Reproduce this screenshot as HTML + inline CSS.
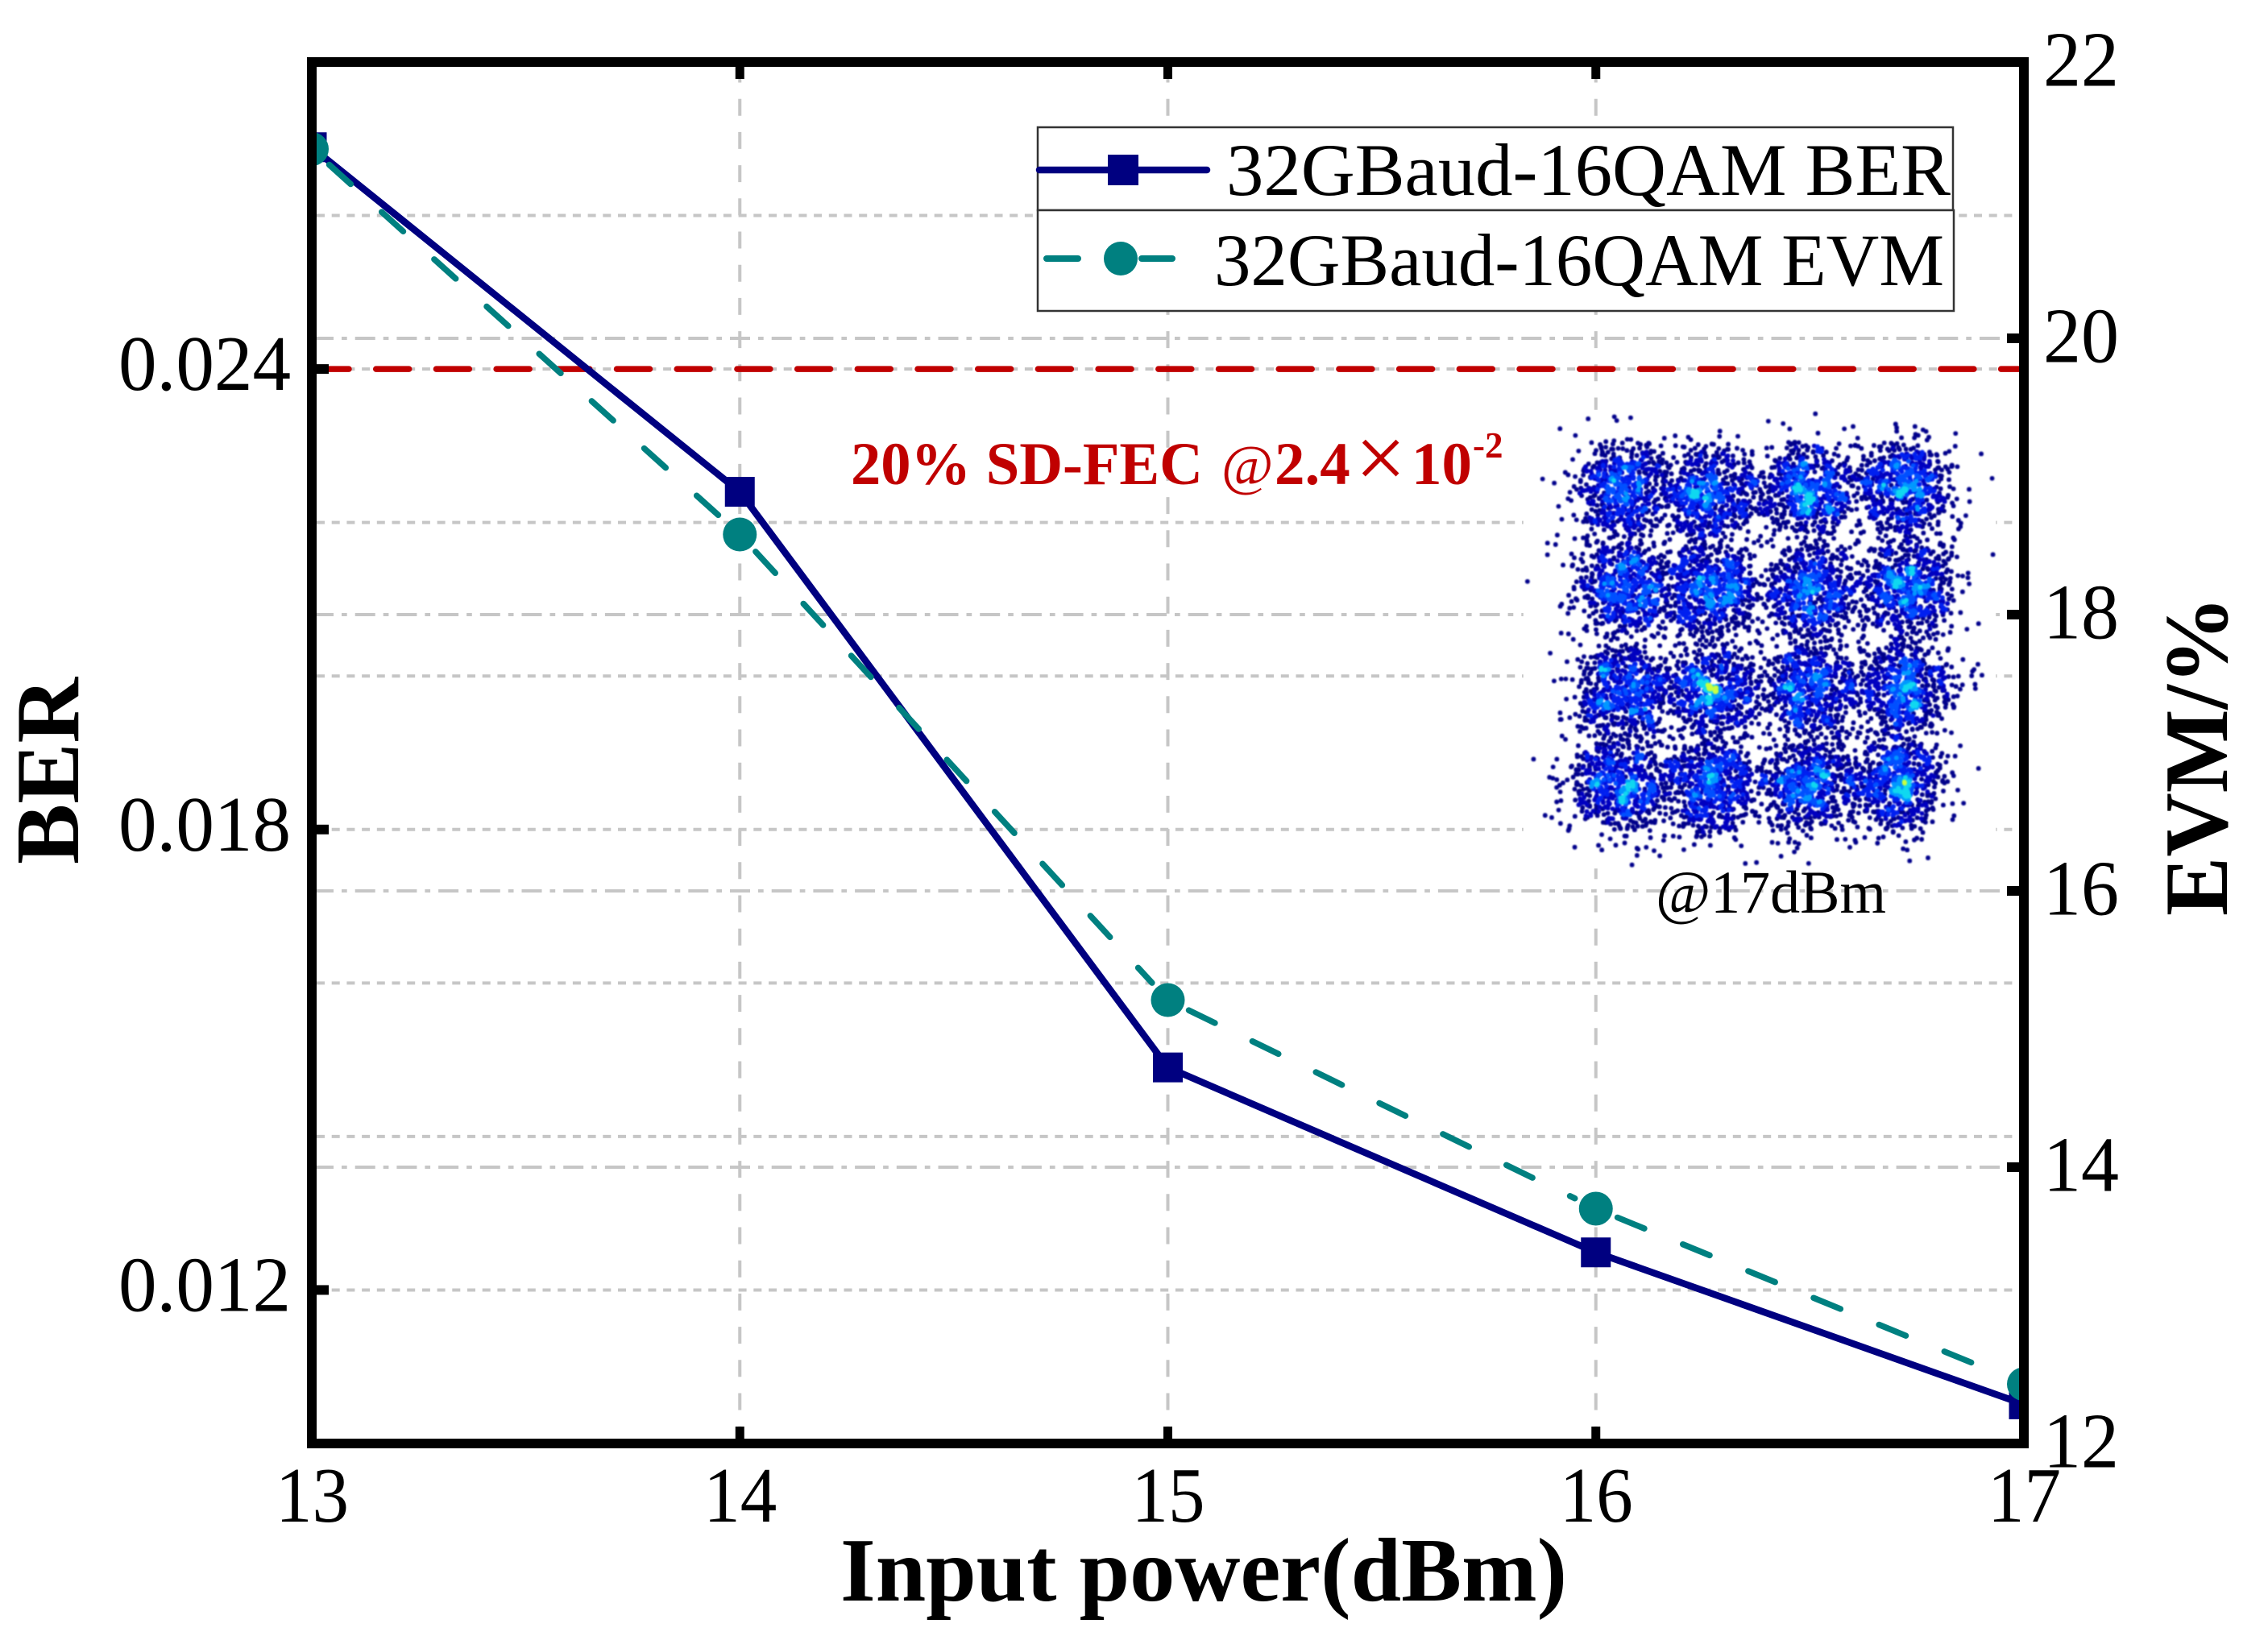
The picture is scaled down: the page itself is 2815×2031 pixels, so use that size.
<!DOCTYPE html>
<html lang="en">
<head>
<meta charset="utf-8">
<title>BER and EVM versus input power</title>
<style>
html,body{margin:0;padding:0;background:#fff;width:2815px;height:2031px;overflow:hidden}
#chart{position:absolute;left:0;top:0;width:2815px;height:2031px}
#constellation-canvas{position:absolute;left:1891px;top:509px;width:586px;height:569px;filter:blur(.7px)}
text{font-family:"Liberation Serif",serif;fill:#000}
.tick-label{font-size:98px}
.axis-title{font-size:112px;font-weight:bold}
.legend-text{font-size:92px}
.fec{fill:#c00000;font-size:75px;font-weight:bold}
</style>
</head>
<body>
<svg id="chart" xmlns="http://www.w3.org/2000/svg" width="2815" height="2031" viewBox="0 0 2815 2031">
  <defs>
    <clipPath id="plot-clip"><rect x="387" y="77" width="2125" height="1715"/></clipPath>
  </defs>
  <rect x="0" y="0" width="2815" height="2031" fill="#fff"/>
  <g id="grid"></g>
  <rect x="1891" y="509" width="586" height="569" fill="#fff"/>
  <line id="fec-line" stroke="#c00000" stroke-width="7.5" stroke-linecap="round" stroke-dasharray="41 33.7"/>
  <g id="series" clip-path="url(#plot-clip)"></g>
  <rect x="387" y="77" width="2125" height="1715" fill="none" stroke="#000" stroke-width="12"/>
  <g id="ticks"></g>
  <g id="tick-labels"></g>

  <text class="axis-title" x="1043" y="1987" textLength="902" lengthAdjust="spacingAndGlyphs">Input power(dBm)</text>
  <text class="axis-title" transform="translate(97 1073) rotate(-90)" textLength="232" lengthAdjust="spacingAndGlyphs">BER</text>
  <text class="axis-title" transform="translate(2764 1137) rotate(-90)" textLength="397" lengthAdjust="spacingAndGlyphs">EVM/%</text>

  <g>
    <rect x="1288" y="158" width="1136" height="103" fill="#fff" stroke="#333" stroke-width="2.5"/>
    <rect x="1288" y="261" width="1137" height="125" fill="#fff" stroke="#333" stroke-width="2.5"/>
    <line x1="1290" y1="211" x2="1498" y2="211" stroke="#000080" stroke-width="8.5" stroke-linecap="round"/>
    <rect x="1375" y="192" width="38" height="38" fill="#000080"/>
    <text class="legend-text" x="1522" y="242" textLength="899" lengthAdjust="spacingAndGlyphs">32GBaud-16QAM BER</text>
    <line x1="1299" y1="321" x2="1338" y2="321" stroke="#008080" stroke-width="8" stroke-linecap="round"/>
    <line x1="1417" y1="321" x2="1455" y2="321" stroke="#008080" stroke-width="8" stroke-linecap="round"/>
    <circle cx="1391" cy="321" r="21" fill="#008080"/>
    <text class="legend-text" x="1507" y="354" textLength="906" lengthAdjust="spacingAndGlyphs">32GBaud-16QAM EVM</text>
  </g>

  <g>
    <text class="fec" x="1056" y="601" textLength="437" lengthAdjust="spacingAndGlyphs">20% SD-FEC</text>
    <text class="fec" x="1516" y="601" style="font-size:70px;font-weight:normal">@</text>
    <text class="fec" x="1582" y="601">2.4</text>
    <text class="fec" x="1682" y="606" style="font-size:112px;font-weight:normal">×</text>
    <text class="fec" x="1752" y="601">10</text>
    <text class="fec" x="1828" y="568" style="font-size:45px">-2</text>
  </g>

  <text x="2055" y="1133" style="font-size:75px" textLength="286" lengthAdjust="spacingAndGlyphs">@17dBm</text>
</svg>
<canvas id="constellation-canvas" width="586" height="569"></canvas>

<script>
const categories = [13, 14, 15, 16, 17];
const berValues = [0.02689, 0.0224, 0.0149, 0.01249, 0.01051];
const evmValues = [21.37, 18.58, 15.21, 13.7, 12.43];
const berLabeledTicks = [0.012, 0.018, 0.024];
const berLabels = ['0.012', '0.018', '0.024'];
const berGridValues = [0.012, 0.014, 0.016, 0.018, 0.02, 0.022, 0.024, 0.026];
const evmTicks = [12, 14, 16, 18, 20, 22];
const evmLabels = ['12', '14', '16', '18', '20', '22'];
const xLabels = ['13', '14', '15', '16', '17'];
const fecThreshold = [0.024];

const NS = 'http://www.w3.org/2000/svg';
const plot = { left: 387, right: 2512, top: 77, bottom: 1792 };
const xDomain = [13, 17];
const berDomain = [0.01, 0.028];
const evmDomain = [12, 22];

function xScale(v) {
  return plot.left + (v - xDomain[0]) / (xDomain[1] - xDomain[0]) * (plot.right - plot.left);
}
function yBer(v) {
  return plot.bottom - (v - berDomain[0]) / (berDomain[1] - berDomain[0]) * (plot.bottom - plot.top);
}
function yEvm(v) {
  return plot.bottom - (v - evmDomain[0]) / (evmDomain[1] - evmDomain[0]) * (plot.bottom - plot.top);
}
function make(tag, attrs, parent) {
  const el = document.createElementNS(NS, tag);
  for (const k in attrs) el.setAttribute(k, attrs[k]);
  parent.appendChild(el);
  return el;
}

const grid = document.getElementById('grid');
const ticks = document.getElementById('ticks');
const labels = document.getElementById('tick-labels');
const series = document.getElementById('series');

/* grid */
categories.slice(1, -1).forEach(function (c) {
  const el = make('line', { x1: xScale(c), x2: xScale(c), y1: 81.5, y2: plot.bottom, stroke: '#c6c6c6', 'stroke-width': 4, 'stroke-dasharray': '21 20.2' }, grid);
  
  
});
berGridValues.forEach(function (v) {
  const el = make('line', { x1: 393, x2: 2506, y1: yBer(v), y2: yBer(v), stroke: '#c6c6c6', 'stroke-width': 4, 'stroke-dasharray': '10 8.7' }, grid);
  
  
});
evmTicks.slice(1, -1).forEach(function (v) {
  const el = make('line', { x1: 389, x2: 2506, y1: yEvm(v), y2: yEvm(v), stroke: '#c6c6c6', 'stroke-width': 4, 'stroke-dasharray': '25 10 6.7 10' }, grid);
  
  
});

/* threshold */
const fec = document.getElementById('fec-line');
fec.setAttribute('x1', 392);
fec.setAttribute('x2', 2512);
fec.setAttribute('y1', yBer(fecThreshold[0]));
fec.setAttribute('y2', yBer(fecThreshold[0]));

/* BER series */
const berPoints = categories.map(function (c, i) { return xScale(c) + ',' + yBer(berValues[i]); }).join(' ');
const berLine = make('polyline', { points: berPoints, fill: 'none', stroke: '#000080', 'stroke-width': 8.5, 'stroke-linejoin': 'round' }, series);



/* EVM series: each segment is dashed separately, leaving a gap round the markers */
const markerGap = 29;
for (let i = 0; i < categories.length - 1; i++) {
  const x1 = xScale(categories[i]), y1 = yEvm(evmValues[i]);
  const x2 = xScale(categories[i + 1]), y2 = yEvm(evmValues[i + 1]);
  const len = Math.hypot(x2 - x1, y2 - y1);
  const ux = (x2 - x1) / len, uy = (y2 - y1) / len;
  const seg = make('line', {
    x1: x1 + ux * markerGap, y1: y1 + uy * markerGap,
    x2: x2 - ux * markerGap, y2: y2 - uy * markerGap,
    stroke: '#008080', 'stroke-width': 7.5, 'stroke-linecap': 'round', 'stroke-dasharray': '36 51.7'
  }, series);
  
  
}

/* markers */
categories.forEach(function (c, i) {
  const sq = make('rect', { x: xScale(c) - 18.5, y: yBer(berValues[i]) - 18.5, width: 37, height: 37, fill: '#000080' }, series);
  
  
});
categories.forEach(function (c, i) {
  const dot = make('circle', { cx: xScale(c), cy: yEvm(evmValues[i]), r: 21, fill: '#008080' }, series);
  
  
});

/* ticks */
categories.slice(1, -1).forEach(function (c) {
  const top = make('line', { x1: xScale(c), x2: xScale(c), y1: 83, y2: 98, stroke: '#000', 'stroke-width': 11 }, ticks);
  
  
  const bottom = make('line', { x1: xScale(c), x2: xScale(c), y1: 1771, y2: 1786, stroke: '#000', 'stroke-width': 11 }, ticks);
  
  
});
berLabeledTicks.forEach(function (v) {
  const el = make('line', { x1: 393, x2: 408, y1: yBer(v), y2: yBer(v), stroke: '#000', 'stroke-width': 12 }, ticks);
  
  
});
evmTicks.slice(1, -1).forEach(function (v) {
  const el = make('line', { x1: 2491, x2: 2506, y1: yEvm(v), y2: yEvm(v), stroke: '#000', 'stroke-width': 12 }, ticks);
  
  
});

/* tick labels */
categories.forEach(function (c, i) {
  const t = make('text', { class: 'tick-label', x: xScale(c) - 45, y: 1889, textLength: 91, lengthAdjust: 'spacingAndGlyphs' }, labels);
  
  
  t.textContent = xLabels[i];
});
berLabeledTicks.forEach(function (v, i) {
  const t = make('text', { class: 'tick-label', x: 147, y: yBer(v) + 26, textLength: 214, lengthAdjust: 'spacingAndGlyphs' }, labels);
  
  
  t.textContent = berLabels[i];
});
evmTicks.forEach(function (v, i) {
  const t = make('text', { class: 'tick-label', x: 2536, y: yEvm(v) + 29.5, textLength: 94, lengthAdjust: 'spacingAndGlyphs' }, labels);
  
  
  t.textContent = evmLabels[i];
});

/* Constellation inset. The source is a raster picture embedded in the figure,
   not plotted data, so this is a seeded decorative texture around the 16
   cluster centres measured from the reference. */
const clusterCentres = [
  [2015,609],[2125,614],[2245,609],[2363,605],
  [2015,730],[2122,734],[2247,734],[2368,728],
  [2013,859],[2127,859],[2245,855],[2363,855],
  [2008,975],[2122,978],[2243,975],[2354,971]
];
(function drawInset() {
  const ctx = document.getElementById('constellation-canvas').getContext('2d');
  let s = 20170517;
  function rnd() {
    s = (s + 0x6D2B79F5) | 0;
    let t = Math.imul(s ^ (s >>> 15), 1 | s);
    t = (t + Math.imul(t ^ (t >>> 7), 61 | t)) ^ t;
    return ((t ^ (t >>> 14)) >>> 0) / 4294967296;
  }
  function gauss() {
    return Math.sqrt(-2 * Math.log(1 - rnd())) * Math.cos(2 * Math.PI * rnd());
  }
  const pts = [];
  const cell = 4;
  const W = 150, H = 145;
  const counts = new Int16Array(W * H);
  clusterCentres.forEach(function (c) {
    for (let i = 0; i < 640; i++) {
      const kind = rnd();
      let dx, dy;
      if (kind < 0.65) {
        dx = gauss() * 30;
        dy = gauss() * 30;
      } else if (kind < 0.9) {
        const r = 56 * Math.sqrt(rnd());
        const a = 2 * Math.PI * rnd();
        dx = r * Math.cos(a);
        dy = r * Math.sin(a);
      } else {
        dx = gauss() * 46;
        dy = gauss() * 46;
      }
      const x = c[0] - 1891 + dx;
      const y = c[1] - 509 + dy;
      if (x < 3 || y < 3 || x > 583 || y > 566) continue;
      pts.push([x, y]);
      counts[Math.floor(y / cell) * W + Math.floor(x / cell)]++;
    }
  });
  function density(p) {
    const cx = Math.floor(p[0] / cell), cy = Math.floor(p[1] / cell);
    let n = 0;
    for (let dy = -1; dy <= 1; dy++) for (let dx = -1; dx <= 1; dx++) {
      const yy = cy + dy, xx = cx + dx;
      if (yy >= 0 && yy < H && xx >= 0 && xx < W) n += counts[yy * W + xx];
    }
    return n;
  }
  function colour(n) {
    if (n < 7) return '#00008b';
    if (n < 10) return '#0000c0';
    if (n < 13) return '#0020f0';
    if (n < 16) return '#0050ff';
    if (n < 19) return '#0098ff';
    if (n < 23) return '#10d8f0';
    if (n < 29) return '#c8ff40';
    return '#ff3000';
  }
  const ranked = pts.map(function (p) { return [density(p), p]; });
  ranked.sort(function (a, b) { return a[0] - b[0]; });
  ctx.fillStyle = '#fff';
  ctx.fillRect(0, 0, 586, 569);
  ranked.forEach(function (r) {
    ctx.fillStyle = colour(r[0]);
    ctx.beginPath();
    ctx.arc(r[1][0], r[1][1], 2.9, 0, 2 * Math.PI);
    ctx.fill();
  });
})();
</script>
</body>
</html>
